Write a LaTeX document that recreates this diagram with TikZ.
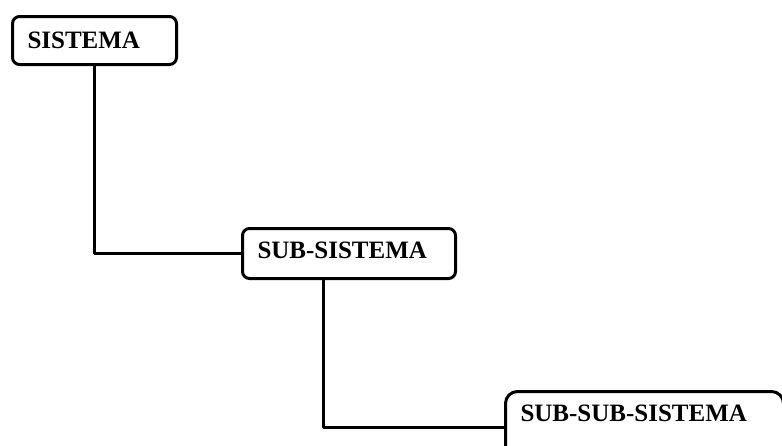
\documentclass[tikz,border=0pt]{standalone}
\usepackage{fontspec}
\setmainfont{Liberation Serif}
\newfontfamily\boxfont{Liberation Serif}
\usepackage{tikz}
\usetikzlibrary{positioning}

\begin{document}
\begin{tikzpicture}[line cap=round, line join=round]
		
		% Styles
		\tikzset{
			sysbox/.style={
				rounded corners=7pt, draw=black, line width=3pt, fill=white,
				inner xsep=15pt, inner ysep=0pt, align=left,
				font=\boxfont\bfseries\fontsize{25}{29}\selectfont
			},
			link/.style={draw=black, line width=3pt}
		}
		
		\useasboundingbox (0,0) rectangle (782pt,-445pt);
		
		% Nodes
		\node[sysbox, text width=134pt, text height=32pt, text depth=16pt,
		anchor=north west] (Sis) at (11pt,-15pt) {SISTEMA};
		
		\node[sysbox, text width=183pt, text height=30pt, text depth=20pt,
		below right=161pt and 63pt of Sis.south east] (SubSis) {SUB-SISTEMA};
		
		\node[sysbox, text width=248pt, text height=30pt, text depth=42pt,
		rounded corners=12pt,
		below right=110pt and 47pt of SubSis.south east] (SubSubSis) {SUB-SUB-SISTEMA};
		
		% Connectors
		\draw[link] (Sis.south) |- (SubSis.west);
		\draw[link] ([xshift=82pt]SubSis.south west) |- (SubSubSis.west);
		
	\end{tikzpicture}
\end{document}
